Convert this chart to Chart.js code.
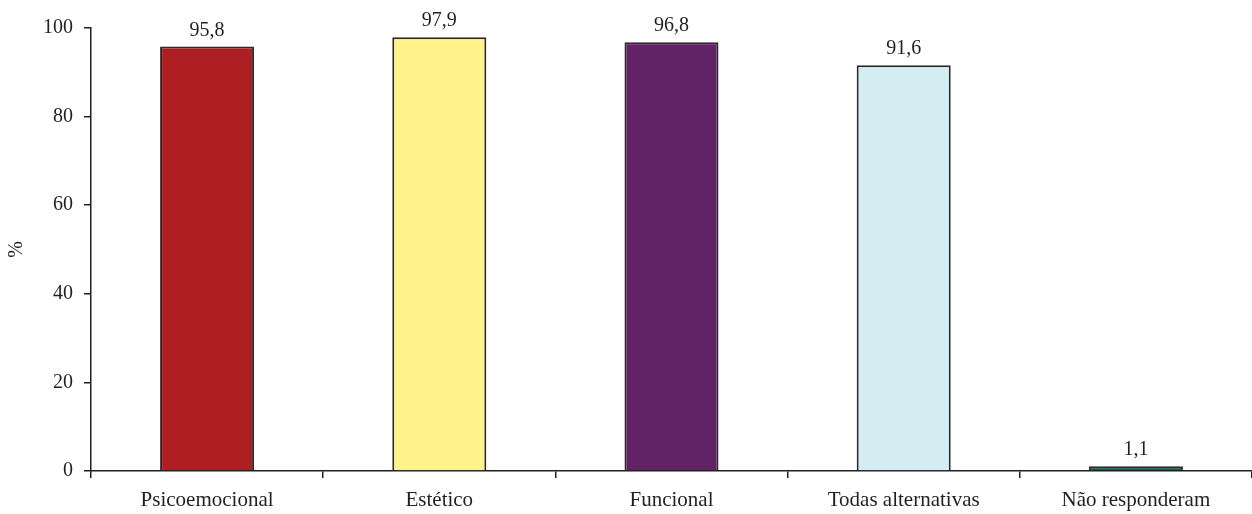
<!DOCTYPE html>
<html>
<head>
<meta charset="utf-8">
<script src="https://cdn.jsdelivr.net/npm/chart.js@4/dist/chart.umd.min.js"></script>
<style>
  html, body { margin: 0; padding: 0; background: #fff; }
  #wrap { width: 1252px; height: 514px; position: relative; }
</style>
</head>
<body>
<div id="wrap"><canvas id="c"></canvas></div>
<script>
const categories = ['Psicoemocional', 'Estético', 'Funcional', 'Todas alternativas', 'Não responderam'];
const values = [95.8, 97.9, 96.8, 91.6, 1.1];
const barColors = ['#AE1F24', '#FFF38A', '#632265', '#D4EDF3', '#0B5A4E'];
const yTicks = [0, 20, 40, 60, 80, 100];

const FONT = '"Liberation Serif", "Times New Roman", serif';
const INK = '#231F20';

// Writes each bar's value above it, with a decimal comma
const valueLabels = {
  id: 'valueLabels',
  afterDatasetsDraw(chart) {
    const ctx = chart.ctx;
    const meta = chart.getDatasetMeta(0);
    ctx.save();
    ctx.font = '20px ' + FONT;
    ctx.fillStyle = INK;
    ctx.textAlign = 'center';
    ctx.textBaseline = 'alphabetic';
    meta.data.forEach((bar, i) => {
      const txt = values[i].toFixed(1).replace('.', ',');
      ctx.fillText(txt, bar.x, bar.y - 11);
    });
    ctx.restore();
  }
};

new Chart(document.getElementById('c'), {
  type: 'bar',
  data: {
    labels: categories,
    datasets: [{
      data: values,
      backgroundColor: barColors,
      borderColor: '#2E2A2B',
      borderWidth: 2,
      barPercentage: 0.81,
      categoryPercentage: 0.5
    }]
  },
  options: {
    responsive: true,
    maintainAspectRatio: false,
    animation: false,
    layout: { padding: { top: 28, right: 0, bottom: 0, left: 0 } },
    plugins: { legend: { display: false }, tooltip: { enabled: false } },
    scales: {
      x: {
        offset: true,
        grid: {
          offset: true,
          drawOnChartArea: false,
          drawTicks: true,
          tickLength: 7,
          color: INK,
          lineWidth: 1.5
        },
        border: { display: true, color: INK, width: 1.5 },
        ticks: {
          color: INK,
          font: { family: FONT, size: 21 },
          padding: 10,
          maxRotation: 0
        },
        afterFit(scale) { scale.height = 43; }
      },
      y: {
        min: 0,
        max: 100,
        afterBuildTicks(scale) { scale.ticks = yTicks.map(v => ({ value: v })); },
        grid: {
          drawOnChartArea: false,
          drawTicks: true,
          tickLength: 7,
          color: INK,
          lineWidth: 1.5
        },
        border: { display: true, color: INK, width: 1.5 },
        ticks: {
          color: INK,
          font: { family: FONT, size: 20 },
          padding: 11
        },
        title: {
          display: true,
          text: '%',
          color: INK,
          font: { family: FONT, size: 20 },
          padding: { top: 5, bottom: 0 }
        },
        afterFit(scale) { scale.width = 91; }
      }
    }
  },
  plugins: [valueLabels]
});
</script>
</body>
</html>
